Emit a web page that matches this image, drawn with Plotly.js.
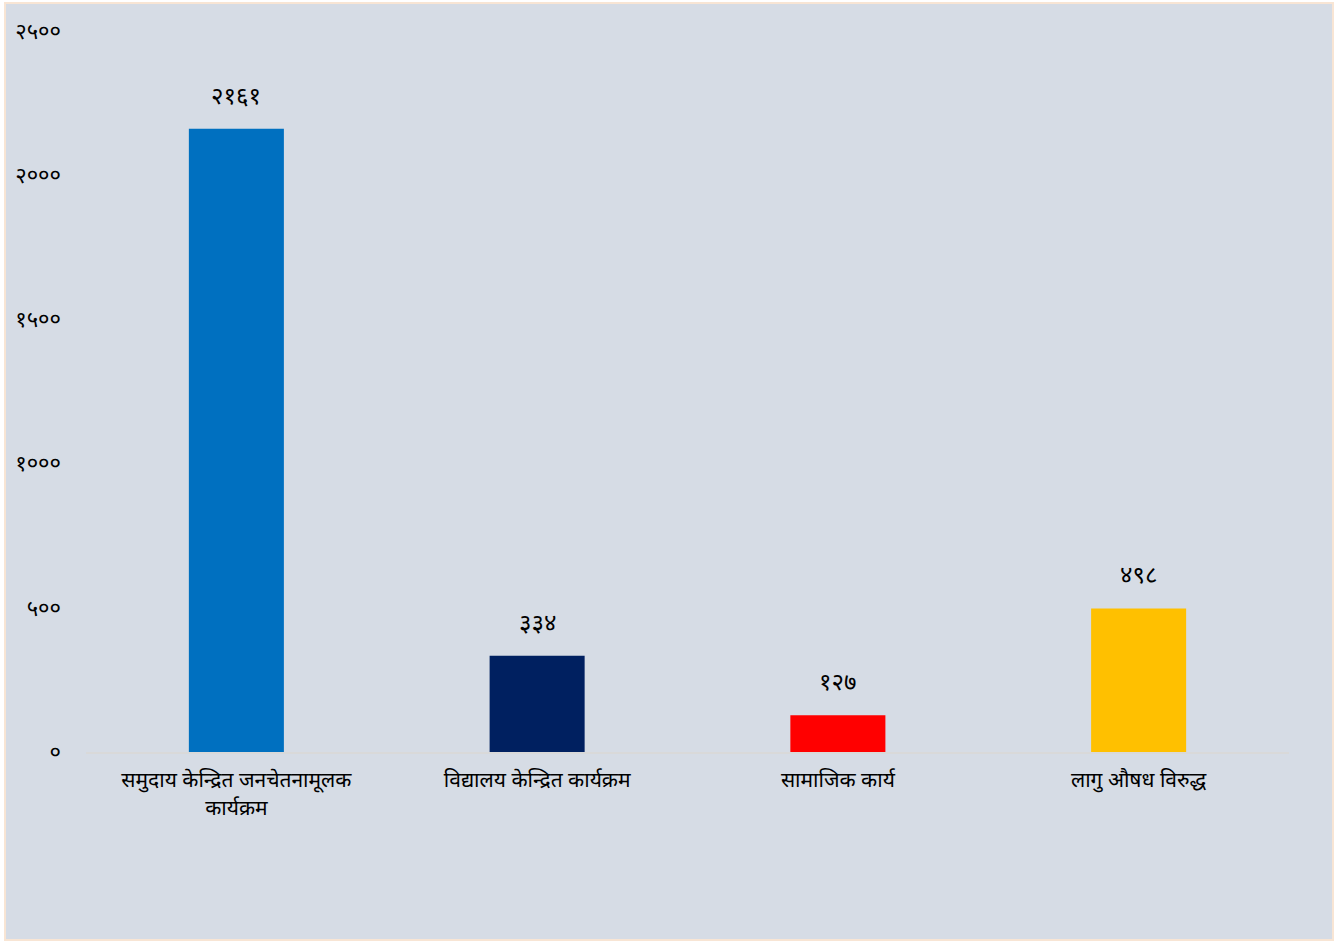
<!DOCTYPE html>
<html>
<head>
<meta charset="utf-8">
<script src="https://cdn.plot.ly/plotly-3.0.1.min.js"></script>
<style>
html,body{margin:0;padding:0;background:#ffffff;}
#frame{position:absolute;left:4px;top:2px;width:1330px;height:939px;border:2px solid #f8e5d4;box-sizing:border-box;background:#d6dce5;}
#chart{width:100%;height:100%;}
</style>
</head>
<body>
<div id="frame"><div id="chart"></div></div>
<script>
const categories = ["समुदाय केन्द्रित जनचेतनामूलक<br>कार्यक्रम", "विद्यालय केन्द्रित कार्यक्रम", "सामाजिक कार्य", "लागु औषध विरुद्ध"];
const values = [2161, 334, 127, 498];
const barColors = ["#0070c0", "#002060", "#ff0000", "#ffc000"];
const tickValues = [0, 500, 1000, 1500, 2000, 2500];

const devDigits = "०१२३४५६७८९";
function toDev(n){ return String(n).split("").map(c => /[0-9]/.test(c) ? devDigits[+c] : c).join(""); }

const font = "'Noto Sans Devanagari','Noto Sans','Lohit Devanagari','Noto Serif Devanagari',sans-serif";

const trace = {
  type: "bar",
  x: categories,
  y: values,
  marker: {color: barColors},
  hoverinfo: "skip"
};

const annotations = values.map((v, i) => ({
  x: categories[i], y: v, xref: "x", yref: "y",
  text: toDev(v), showarrow: false, yshift: 31,
  font: {family: font, size: 24, color: "#000000"}
}));

const layout = {
  paper_bgcolor: "rgba(0,0,0,0)",
  plot_bgcolor: "rgba(0,0,0,0)",
  margin: {l: 80, r: 43, t: 27, b: 187},
  showlegend: false,
  bargap: 0.684,
  xaxis: {
    showline: true, linecolor: "#d9d9d9", linewidth: 2,
    ticks: "", showgrid: false, zeroline: false,
    ticklabelstandoff: 8,
    tickfont: {family: font, size: 21, color: "#000000"}
  },
  yaxis: {
    range: [0, 2500], showgrid: false, zeroline: false, showline: false,
    tickvals: tickValues, ticktext: tickValues.map(toDev),
    ticklabelstandoff: 24,
    tickfont: {family: font, size: 22, color: "#000000"}
  },
  annotations: annotations
};

Plotly.newPlot("chart", [trace], layout, {displayModeBar: false, staticPlot: true});
</script>
</body>
</html>
